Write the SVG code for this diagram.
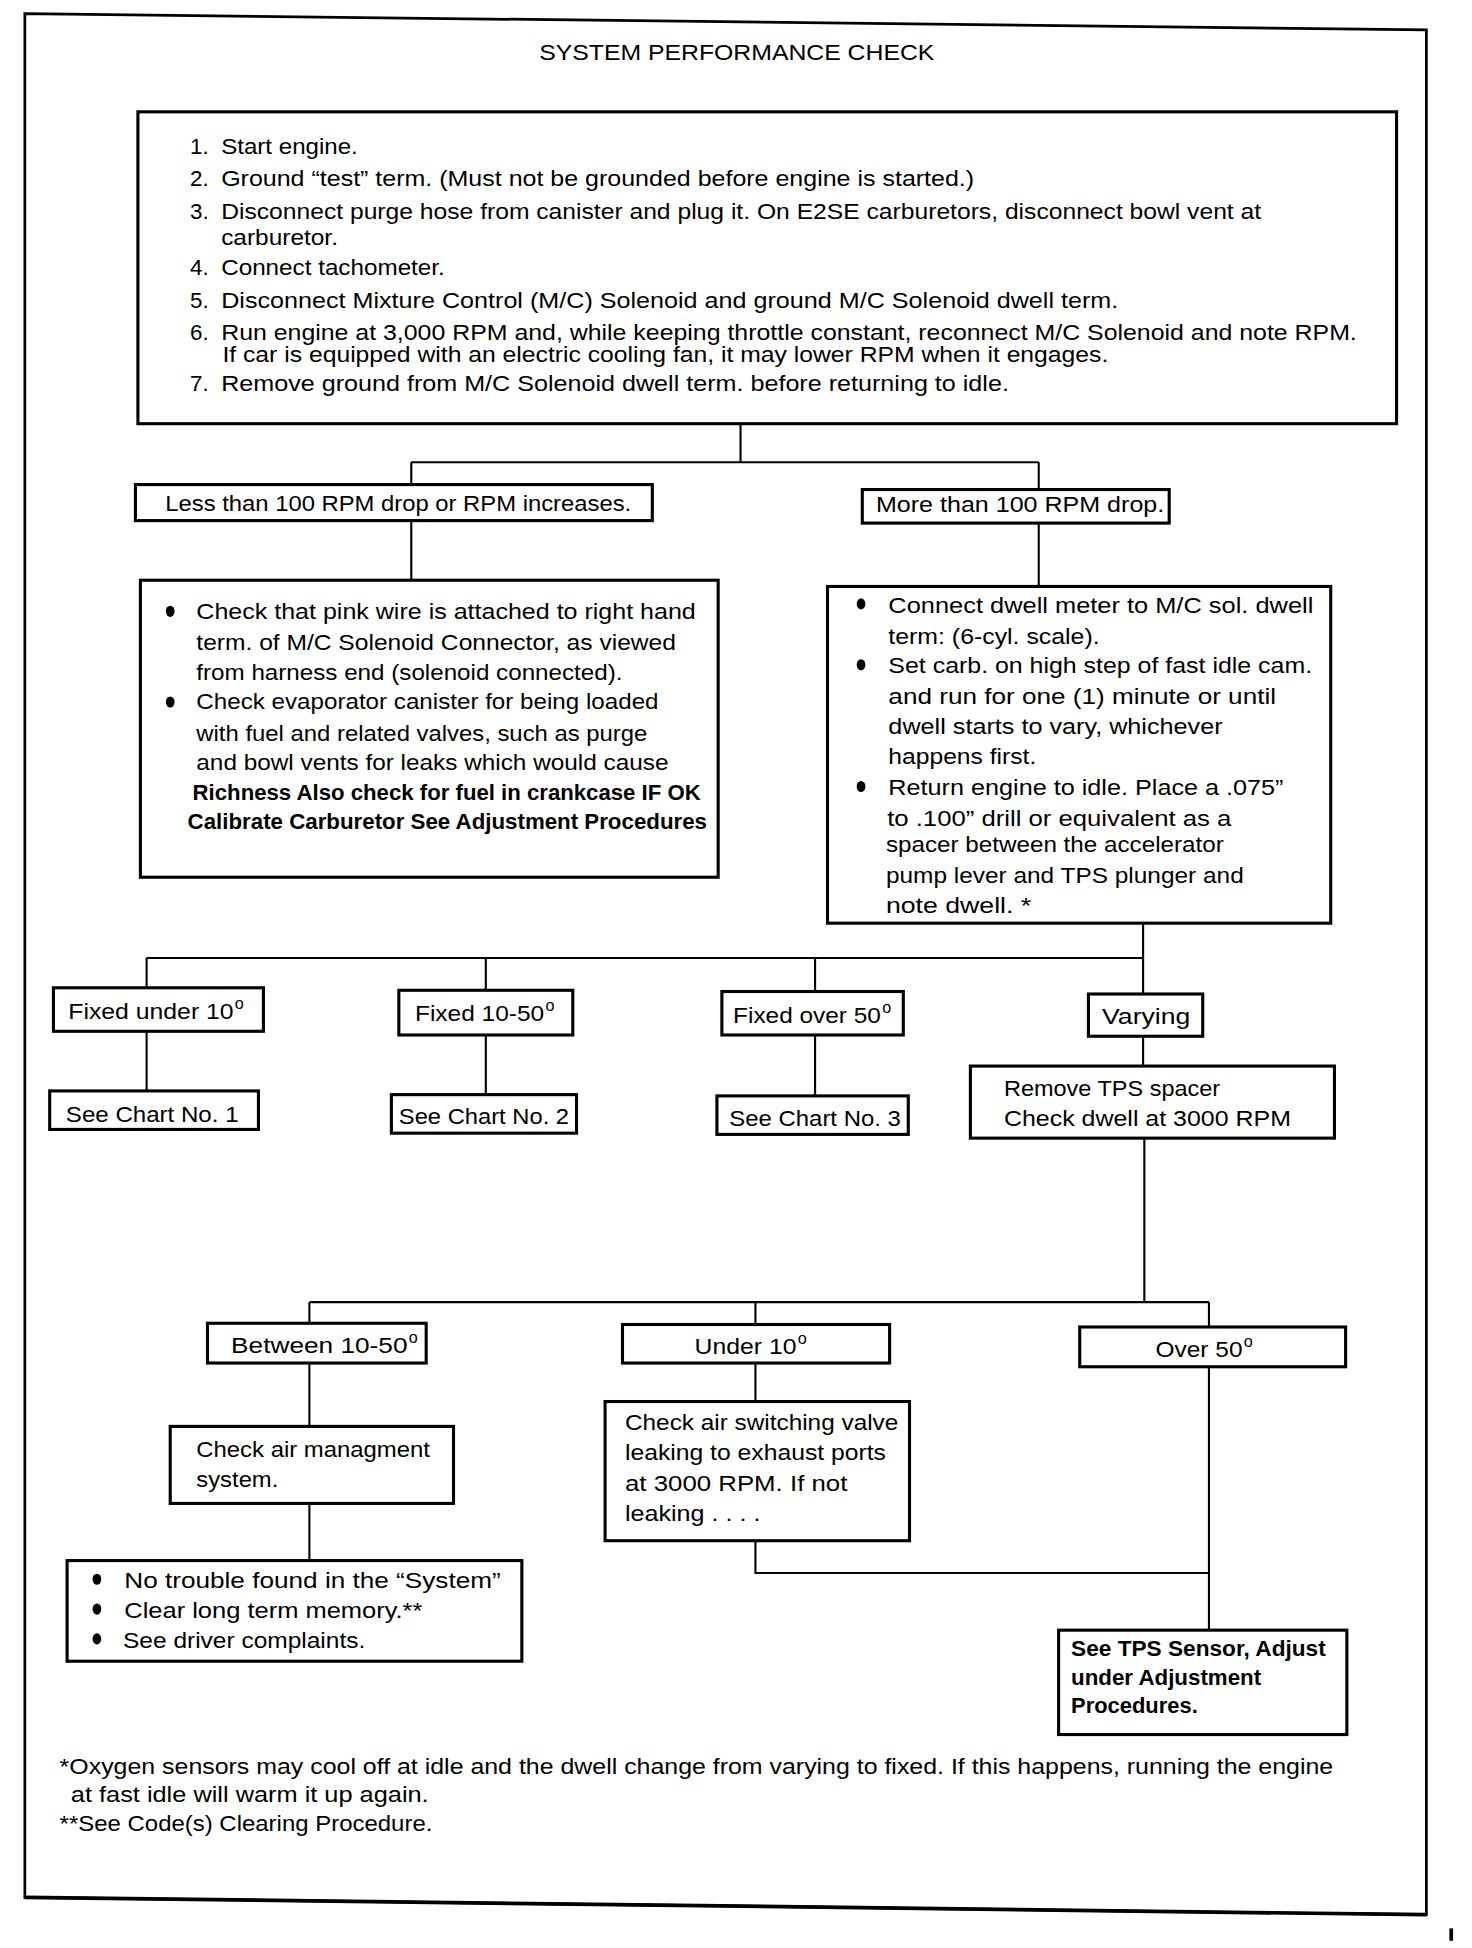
<svg xmlns="http://www.w3.org/2000/svg" width="1472" height="1948" viewBox="0 0 1472 1948">
<style>
.box{fill:#fff;stroke:#000;stroke-width:2.5}
.conn{fill:none;stroke:#000;stroke-width:1.7}
.t{font-family:'Liberation Sans',Arial,sans-serif;font-size:18px;fill:#000}
.b{font-weight:bold}
.dot{fill:#000}
.sup{font-size:13px}
</style>
<rect width="1472" height="1948" fill="#fff"/>
<g transform="scale(1.2425)">
<g id="frame">
<path d="M20 11 L1148 24 L1148 1541 L20 1527 Z" fill="none" stroke="#000" stroke-width="2.2"/>
<line x1="20" y1="1527" x2="1148" y2="1541" stroke="#000" stroke-width="3"/>
<line x1="1168" y1="1552" x2="1168" y2="1562" stroke="#000" stroke-width="3"/>
</g>
<text id="title" class="t" x="593" y="48" text-anchor="middle" font-size="17" textLength="318" lengthAdjust="spacingAndGlyphs">SYSTEM PERFORMANCE CHECK</text>

<g id="connectors">
<path class="conn" d="M596 342 V372 M331 372 H836 M331 372 V390 M836 372 V394 M331 419 V467 M836 421 V472"/>
<path class="conn" d="M920 743 V771 M118 771 H920 M118 771 V795 M391 771 V797 M656 771 V798 M920 771 V800"/>
<path class="conn" d="M118 830 V878 M391 833 V881 M656 833 V882 M920 834 V858"/>
<path class="conn" d="M921 916 V1048 M249 1048 H973 M249 1048 V1065 M608 1048 V1066 M973 1048 V1068"/>
<path class="conn" d="M249 1097 V1148 M608 1097 V1128 M249 1210 V1256 M608 1240 V1266 H973 M973 1100 V1312"/>
</g>

<g id="steps">
<rect class="box" x="111" y="90" width="1013" height="251"/>
<text class="t" x="153" y="124">1.</text><text class="t" x="178" y="124" textLength="110" lengthAdjust="spacingAndGlyphs">Start engine.</text>
<text class="t" x="153" y="150">2.</text><text class="t" x="178" y="150" textLength="606" lengthAdjust="spacingAndGlyphs">Ground “test” term. (Must not be grounded before engine is started.)</text>
<text class="t" x="153" y="176">3.</text><text class="t" x="178" y="176" textLength="837" lengthAdjust="spacingAndGlyphs">Disconnect purge hose from canister and plug it. On E2SE carburetors, disconnect bowl vent at</text>
<text class="t" x="178" y="197" textLength="94" lengthAdjust="spacingAndGlyphs">carburetor.</text>
<text class="t" x="153" y="221">4.</text><text class="t" x="178" y="221" textLength="180" lengthAdjust="spacingAndGlyphs">Connect tachometer.</text>
<text class="t" x="153" y="248">5.</text><text class="t" x="178" y="248" textLength="722" lengthAdjust="spacingAndGlyphs">Disconnect Mixture Control (M/C) Solenoid and ground M/C Solenoid dwell term.</text>
<text class="t" x="153" y="274">6.</text><text class="t" x="178" y="274" textLength="914" lengthAdjust="spacingAndGlyphs">Run engine at 3,000 RPM and, while keeping throttle constant, reconnect M/C Solenoid and note RPM.</text>
<text class="t" x="179" y="291" textLength="713" lengthAdjust="spacingAndGlyphs">If car is equipped with an electric cooling fan, it may lower RPM when it engages.</text>
<text class="t" x="153" y="315">7.</text><text class="t" x="178" y="315" textLength="634" lengthAdjust="spacingAndGlyphs">Remove ground from M/C Solenoid dwell term. before returning to idle.</text>
</g>

<g id="less">
<rect class="box" x="109" y="390" width="416" height="29"/>
<text class="t" x="133" y="411" textLength="375" lengthAdjust="spacingAndGlyphs">Less than 100 RPM drop or RPM increases.</text>
</g>
<g id="more">
<rect class="box" x="694" y="394" width="247" height="27"/>
<text class="t" x="705" y="412" textLength="232" lengthAdjust="spacingAndGlyphs">More than 100 RPM drop.</text>
</g>

<g id="checkpink">
<rect class="box" x="113" y="467" width="465" height="239"/>
<ellipse class="dot" cx="137" cy="492" rx="3.5" ry="4.5"/>
<ellipse class="dot" cx="137" cy="565" rx="3.5" ry="4.5"/>
<text class="t" x="158" y="498" textLength="402" lengthAdjust="spacingAndGlyphs">Check that pink wire is attached to right hand</text>
<text class="t" x="158" y="523" textLength="386" lengthAdjust="spacingAndGlyphs">term. of M/C Solenoid Connector, as viewed</text>
<text class="t" x="158" y="547" textLength="343" lengthAdjust="spacingAndGlyphs">from harness end (solenoid connected).</text>
<text class="t" x="158" y="571" textLength="372" lengthAdjust="spacingAndGlyphs">Check evaporator canister for being loaded</text>
<text class="t" x="158" y="596" textLength="363" lengthAdjust="spacingAndGlyphs">with fuel and related valves, such as purge</text>
<text class="t" x="158" y="620" textLength="380" lengthAdjust="spacingAndGlyphs">and bowl vents for leaks which would cause</text>
<text class="t b" x="155" y="644" textLength="409" lengthAdjust="spacingAndGlyphs">Richness Also check for fuel in crankcase IF OK</text>
<text class="t b" x="151" y="667" textLength="418" lengthAdjust="spacingAndGlyphs">Calibrate Carburetor See Adjustment Procedures</text>
</g>

<g id="dwell">
<rect class="box" x="666" y="472" width="405" height="271"/>
<ellipse class="dot" cx="693" cy="486" rx="3.5" ry="4.5"/>
<ellipse class="dot" cx="693" cy="535" rx="3.5" ry="4.5"/>
<ellipse class="dot" cx="693" cy="633" rx="3.5" ry="4.5"/>
<text class="t" x="715" y="493" textLength="342" lengthAdjust="spacingAndGlyphs">Connect dwell meter to M/C sol. dwell</text>
<text class="t" x="715" y="518" textLength="170" lengthAdjust="spacingAndGlyphs">term: (6-cyl. scale).</text>
<text class="t" x="715" y="542" textLength="341" lengthAdjust="spacingAndGlyphs">Set carb. on high step of fast idle cam.</text>
<text class="t" x="715" y="567" textLength="312" lengthAdjust="spacingAndGlyphs">and run for one (1) minute or until</text>
<text class="t" x="715" y="591" textLength="269" lengthAdjust="spacingAndGlyphs">dwell starts to vary, whichever</text>
<text class="t" x="715" y="615" textLength="119" lengthAdjust="spacingAndGlyphs">happens first.</text>
<text class="t" x="715" y="640" textLength="318" lengthAdjust="spacingAndGlyphs">Return engine to idle. Place a .075”</text>
<text class="t" x="714" y="665" textLength="277" lengthAdjust="spacingAndGlyphs">to .100” drill or equivalent as a</text>
<text class="t" x="713" y="686" textLength="272" lengthAdjust="spacingAndGlyphs">spacer between the accelerator</text>
<text class="t" x="713" y="711" textLength="288" lengthAdjust="spacingAndGlyphs">pump lever and TPS plunger and</text>
<text class="t" x="713" y="735" textLength="117" lengthAdjust="spacingAndGlyphs">note dwell. *</text>
</g>

<g id="fixedunder">
<rect class="box" x="43" y="795" width="169" height="35"/>
<text class="t" x="55" y="820"><tspan textLength="133" lengthAdjust="spacingAndGlyphs">Fixed under 10</tspan><tspan class="sup" dx="1" dy="-8">o</tspan></text>
</g>
<g id="fixed1050">
<rect class="box" x="321" y="797" width="140" height="36"/>
<text class="t" x="334" y="822"><tspan textLength="104" lengthAdjust="spacingAndGlyphs">Fixed 10-50</tspan><tspan class="sup" dx="1" dy="-8">o</tspan></text>
</g>
<g id="fixedover">
<rect class="box" x="581" y="798" width="146" height="35"/>
<text class="t" x="590" y="823"><tspan textLength="119" lengthAdjust="spacingAndGlyphs">Fixed over 50</tspan><tspan class="sup" dx="1" dy="-8">o</tspan></text>
</g>
<g id="varying">
<rect class="box" x="876" y="800" width="92" height="34"/>
<text class="t" x="887" y="824" textLength="71" lengthAdjust="spacingAndGlyphs">Varying</text>
</g>
<g id="chart1">
<rect class="box" x="40" y="878" width="168" height="31"/>
<text class="t" x="53" y="903" textLength="139" lengthAdjust="spacingAndGlyphs">See Chart No. 1</text>
</g>
<g id="chart2">
<rect class="box" x="315" y="881" width="149" height="31"/>
<text class="t" x="321" y="905" textLength="137" lengthAdjust="spacingAndGlyphs">See Chart No. 2</text>
</g>
<g id="chart3">
<rect class="box" x="577" y="882" width="154" height="31"/>
<text class="t" x="587" y="906" textLength="138" lengthAdjust="spacingAndGlyphs">See Chart No. 3</text>
</g>
<g id="removetps">
<rect class="box" x="781" y="858" width="293" height="58"/>
<text class="t" x="808" y="882" textLength="174" lengthAdjust="spacingAndGlyphs">Remove TPS spacer</text>
<text class="t" x="808" y="906" textLength="231" lengthAdjust="spacingAndGlyphs">Check dwell at 3000 RPM</text>
</g>

<g id="between">
<rect class="box" x="167" y="1065" width="176" height="32"/>
<text class="t" x="186" y="1089"><tspan textLength="142" lengthAdjust="spacingAndGlyphs">Between 10-50</tspan><tspan class="sup" dx="1" dy="-8">o</tspan></text>
</g>
<g id="under10">
<rect class="box" x="501" y="1066" width="215" height="31"/>
<text class="t" x="559" y="1090"><tspan textLength="82" lengthAdjust="spacingAndGlyphs">Under 10</tspan><tspan class="sup" dx="1" dy="-8">o</tspan></text>
</g>
<g id="over50">
<rect class="box" x="869" y="1068" width="214" height="32"/>
<text class="t" x="930" y="1092"><tspan textLength="70" lengthAdjust="spacingAndGlyphs">Over 50</tspan><tspan class="sup" dx="1" dy="-8">o</tspan></text>
</g>

<g id="airmgmt">
<rect class="box" x="137" y="1148" width="228" height="62"/>
<text class="t" x="158" y="1173" textLength="188" lengthAdjust="spacingAndGlyphs">Check air managment</text>
<text class="t" x="158" y="1197" textLength="66" lengthAdjust="spacingAndGlyphs">system.</text>
</g>
<g id="airswitch">
<rect class="box" x="487" y="1128" width="245" height="112"/>
<text class="t" x="503" y="1151" textLength="220" lengthAdjust="spacingAndGlyphs">Check air switching valve</text>
<text class="t" x="503" y="1175" textLength="210" lengthAdjust="spacingAndGlyphs">leaking to exhaust ports</text>
<text class="t" x="503" y="1200" textLength="179" lengthAdjust="spacingAndGlyphs">at 3000 RPM. If not</text>
<text class="t" x="503" y="1224" textLength="109" lengthAdjust="spacingAndGlyphs">leaking . . . .</text>
</g>
<g id="notrouble">
<rect class="box" x="54" y="1256" width="366" height="81"/>
<ellipse class="dot" cx="78" cy="1271" rx="3.5" ry="4.5"/>
<ellipse class="dot" cx="78" cy="1295" rx="3.5" ry="4.5"/>
<ellipse class="dot" cx="78" cy="1319" rx="3.5" ry="4.5"/>
<text class="t" x="100" y="1278" textLength="303" lengthAdjust="spacingAndGlyphs">No trouble found in the “System”</text>
<text class="t" x="100" y="1302" textLength="240" lengthAdjust="spacingAndGlyphs">Clear long term memory.**</text>
<text class="t" x="99" y="1326" textLength="195" lengthAdjust="spacingAndGlyphs">See driver complaints.</text>
</g>
<g id="tpssensor">
<rect class="box" x="852" y="1312" width="232" height="84"/>
<text class="t b" x="862" y="1333" textLength="205" lengthAdjust="spacingAndGlyphs">See TPS Sensor, Adjust</text>
<text class="t b" x="862" y="1356" textLength="153" lengthAdjust="spacingAndGlyphs">under Adjustment</text>
<text class="t b" x="862" y="1379" textLength="102" lengthAdjust="spacingAndGlyphs">Procedures.</text>
</g>

<g id="footnotes">
<text class="t" x="48" y="1428" textLength="1025" lengthAdjust="spacingAndGlyphs">*Oxygen sensors may cool off at idle and the dwell change from varying to fixed. If this happens, running the engine</text>
<text class="t" x="57" y="1450" textLength="288" lengthAdjust="spacingAndGlyphs">at fast idle will warm it up again.</text>
<text class="t" x="48" y="1474" textLength="300" lengthAdjust="spacingAndGlyphs">**See Code(s) Clearing Procedure.</text>
</g>
</g>
</svg>
